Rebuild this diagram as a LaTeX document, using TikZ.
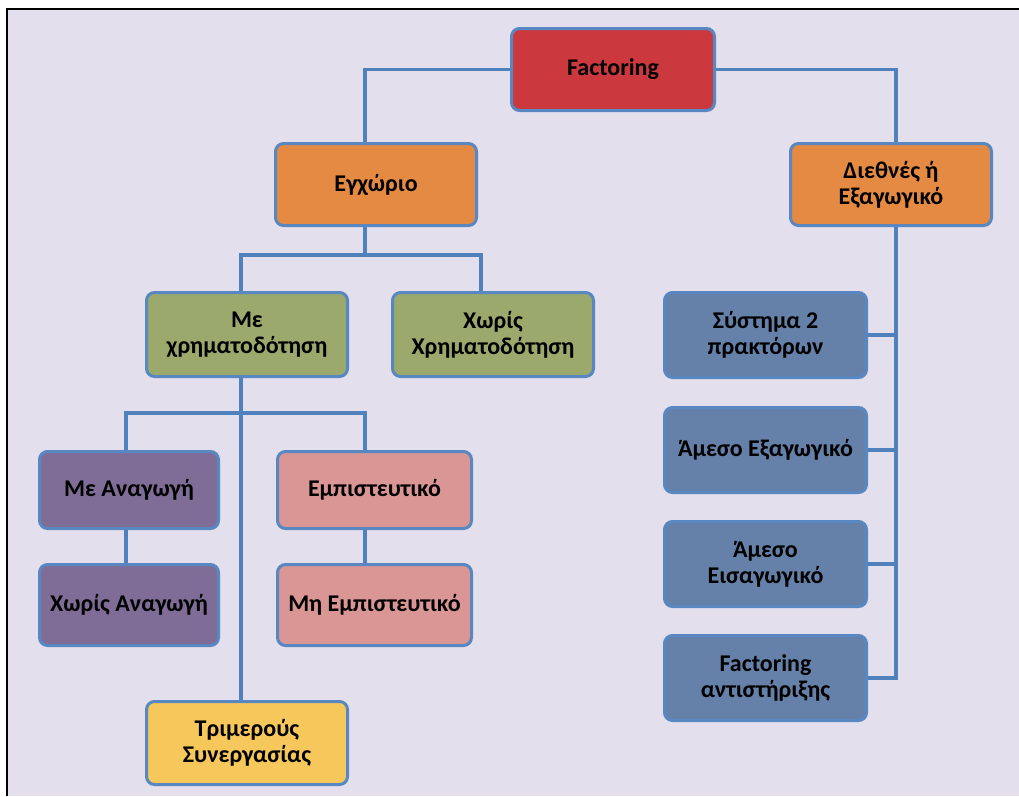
\documentclass[tikz,border=0pt]{standalone}
\usepackage{fontspec}
\setmainfont{Carlito}
\definecolor{bglav}{HTML}{E4DFEC}
\definecolor{linkblue}{HTML}{4F81BD}
\definecolor{boxborder}{HTML}{5887C2}
\definecolor{cred}{HTML}{CB393F}
\definecolor{corange}{HTML}{E58A43}
\definecolor{cgreen}{HTML}{9BAA6C}
\definecolor{cpurple}{HTML}{7F6D97}
\definecolor{cpink}{HTML}{D99694}
\definecolor{cyellow}{HTML}{F6C85B}
\definecolor{cblue}{HTML}{6581A9}
\tikzset{
  box/.style={rectangle, rounded corners=8pt, draw=boxborder, line width=3pt,
    inner sep=0pt, align=center, text=black,
    font=\fontsize{24}{26}\selectfont\bfseries},
  link/.style={draw=linkblue, line width=3.3pt}
}
\begin{document}
\begin{tikzpicture}[x=1pt,y=-1pt]
\useasboundingbox (0,0) rectangle (1019,796);
\fill[white] (0,0) rectangle (1019,796);
\fill[bglav] (7,9) rectangle (1019,796);
\draw[black, line width=1.5pt] (7,796) -- (7,9) -- (1019,9);

\node[box, fill=cred, minimum width=203pt, minimum height=82pt] (fact) at (613,69.5) {Factoring};
\node[box, fill=corange, minimum width=201pt, minimum height=82pt] (egx) at (376,184.5) {Εγχώριο};
\node[box, fill=corange, minimum width=201pt, minimum height=82pt] (dieth) at (891,184.5) {Διεθνές ή\\Εξαγωγικό};
\node[box, fill=cgreen, minimum width=201pt, minimum height=84pt] (mexr) at (247,334.5) {Με\\χρηματοδότηση};
\node[box, fill=cgreen, minimum width=201pt, minimum height=84pt] (xwr) at (493,334.5) {Χωρίς\\Χρηματοδότηση};
\node[box, fill=cpurple, minimum width=179pt, minimum height=77pt] (meanag) at (129,490) {Με Αναγωγή};
\node[box, fill=cpurple, minimum width=179pt, minimum height=81pt] (xwranag) at (129,605) {Χωρίς Αναγωγή};
\node[box, fill=cpink, minimum width=194pt, minimum height=77pt] (empi) at (374.5,490) {Εμπιστευτικό};
\node[box, fill=cpink, minimum width=194pt, minimum height=81pt] (miempi) at (374.5,605) {Μη Εμπιστευτικό};
\node[box, fill=cyellow, minimum width=201pt, minimum height=83pt] (trim) at (247,743) {Τριμερούς\\Συνεργασίας};
\node[box, fill=cblue, minimum width=202pt, minimum height=85pt] (syst) at (765.5,335) {Σύστημα 2\\πρακτόρων};
\node[box, fill=cblue, minimum width=202pt, minimum height=85pt] (amex) at (765.5,450) {Άμεσο Εξαγωγικό};
\node[box, fill=cblue, minimum width=202pt, minimum height=85pt] (ameis) at (765.5,564) {Άμεσο\\Εισαγωγικό};
\node[box, fill=cblue, minimum width=202pt, minimum height=85pt] (fantis) at (765.5,678) {Factoring\\αντιστήριξης};

\coordinate (j1) at (365,255);
\coordinate (j2) at (241,413);
\coordinate (trunk) at ([xshift=5pt]dieth.south);

\path[link] (fact.west) -| ([xshift=-11pt]egx.north);
\path[link] (fact.east) -| (trunk |- dieth.north);
\path[link] ([xshift=-11pt]egx.south) -- (j1);
\path[link] ([xshift=-6pt]mexr.north) |- (j1) -| ([xshift=-12pt]xwr.north);
\path[link] ([xshift=-6pt]mexr.south) -- ([xshift=-6pt]trim.north);
\path[link] ([xshift=-3pt]meanag.north) |- (j2) -| ([xshift=-9.5pt]empi.north);
\path[link] ([xshift=-3pt]meanag.south) -- ([xshift=-3pt]xwranag.north);
\path[link] ([xshift=-9.5pt]empi.south) -- ([xshift=-9.5pt]miempi.north);
\path[link] (trunk) |- (fantis.east);
\path[link] (syst.east) -- (syst.east -| trunk);
\path[link] (amex.east) -- (amex.east -| trunk);
\path[link] (ameis.east) -- (ameis.east -| trunk);
\end{tikzpicture}
\end{document}
